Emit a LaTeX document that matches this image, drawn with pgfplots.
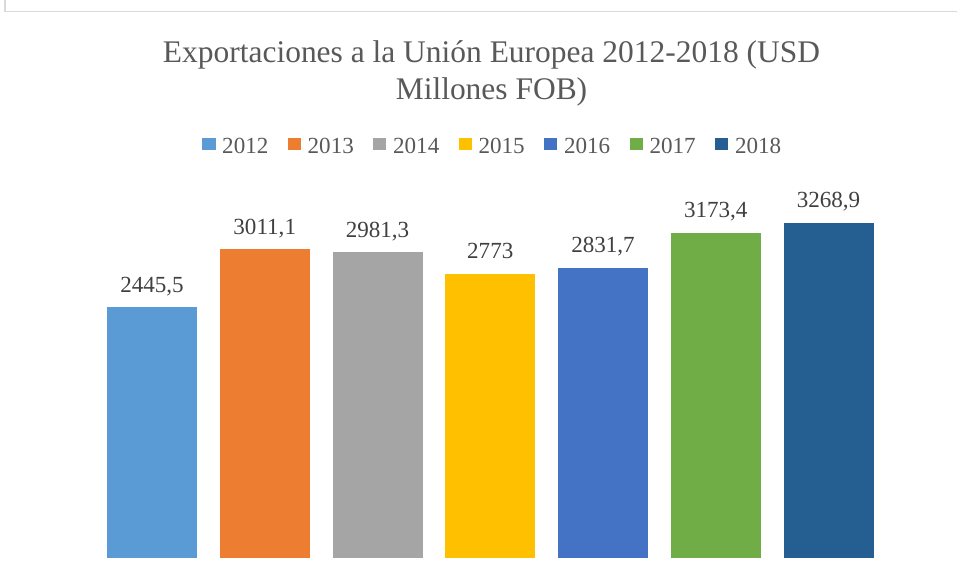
\documentclass[border=0pt]{standalone}
\usepackage{fontspec}
\setmainfont{Liberation Serif}
\usepackage{pgfplots}
\pgfplotsset{compat=1.18}
\definecolor{c1}{HTML}{5B9BD5}
\definecolor{c2}{HTML}{ED7D31}
\definecolor{c3}{HTML}{A5A5A5}
\definecolor{c4}{HTML}{FFC000}
\definecolor{c5}{HTML}{4472C4}
\definecolor{c6}{HTML}{70AD47}
\definecolor{c7}{HTML}{255E91}
\definecolor{txt}{HTML}{595959}
\definecolor{lab}{HTML}{404040}
\definecolor{frame}{HTML}{D9D9D9}
\begin{document}
\begin{tikzpicture}[x=0.75pt,y=0.75pt]
\path[use as bounding box] (0,0) rectangle (957,582);
\draw[color=frame, line width=1.1pt] (5,582) -- (5,570.5) -- (957,570.5);
\node[anchor=base, text=txt, font=\fontsize{23.6}{28}\selectfont] at (491.5,519) {Exportaciones a la Unión Europea 2012-2018 (USD};
\node[anchor=base, text=txt, font=\fontsize{23.6}{28}\selectfont] at (491.5,482) {Millones FOB)};
\begin{axis}[
  at={(71.7pt,18pt)}, anchor=south west,
  scale only axis, width=592pt, height=269.25pt,
  xmin=-0.5, xmax=6.5, ymin=0, ymax=3500,
  hide axis, clip=false,
  ybar, bar width=67.5pt, bar shift=0pt,
  nodes near coords, point meta=explicit symbolic,
  every node near coord/.append style={anchor=base, yshift=11.25pt, text=lab, font=\fontsize{17.3}{20}\selectfont},
  legend columns=7,
  legend style={draw=none, fill=none, at={(0.5035,1.1448)}, anchor=center,
    font=\fontsize{17.3}{20}\selectfont, text=txt,
    /tikz/every even column/.append style={column sep=12.5pt}},
  legend image code/.code={\fill[#1] (0pt,-2pt) rectangle (10pt,7pt); \path (13pt,0pt);},
]
\addplot[fill=c1, draw=none] coordinates {(0,2445.5)[2445,5]};
\addplot[fill=c2, draw=none] coordinates {(1,3011.1)[3011,1]};
\addplot[fill=c3, draw=none] coordinates {(2,2981.3)[2981,3]};
\addplot[fill=c4, draw=none] coordinates {(3,2773)[2773]};
\addplot[fill=c5, draw=none] coordinates {(4,2831.7)[2831,7]};
\addplot[fill=c6, draw=none] coordinates {(5,3173.4)[3173,4]};
\addplot[fill=c7, draw=none] coordinates {(6,3268.9)[3268,9]};
\legend{2012,2013,2014,2015,2016,2017,2018}
\end{axis}
\end{tikzpicture}
\end{document}
